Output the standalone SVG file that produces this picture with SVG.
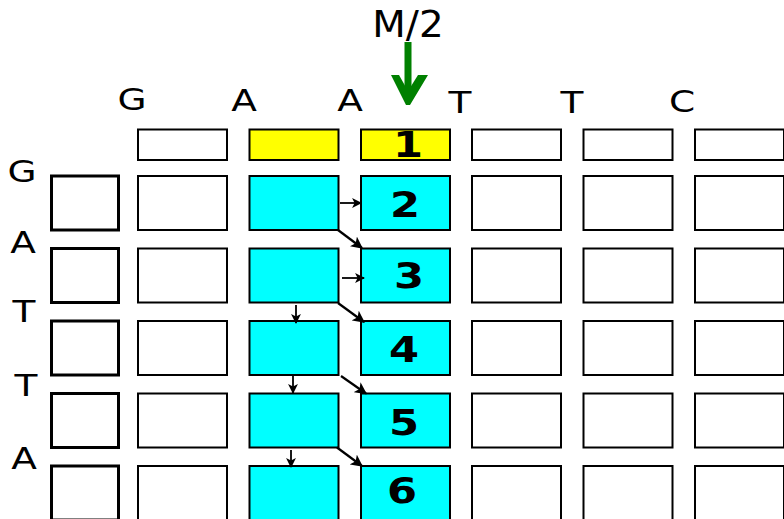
<svg xmlns="http://www.w3.org/2000/svg" width="784" height="519" viewBox="0 0 784 519">
<style>
.b{fill:#fff;stroke:#000;stroke-width:2}
.lb{fill:#fff;stroke:#000;stroke-width:3}
.y{fill:#ffff00;stroke:#000;stroke-width:2}
.c{fill:#00ffff;stroke:#000;stroke-width:2}
.l{font-family:"DejaVu Sans",sans-serif;font-size:30px;fill:#000;text-anchor:middle}
.n{font-family:"DejaVu Sans",sans-serif;font-weight:bold;font-size:36px;fill:#000;text-anchor:middle}
.a{stroke:#000;stroke-width:1.8;fill:none;marker-end:url(#ah)}
.d{stroke:#000;stroke-width:2.2;fill:none;marker-end:url(#ah)}
</style>
<defs>
<marker id="ah" viewBox="0 0 10 10" refX="9" refY="5" markerWidth="5.5" markerHeight="5.5" orient="auto" markerUnits="strokeWidth">
<path d="M0,0 L10,5 L0,10 L2.5,5 z" fill="#000"/>
</marker>
</defs>
<rect width="784" height="519" fill="#fff"/>
<g id="title">
<text x="408" y="37" font-family="DejaVu Sans,sans-serif" font-size="37" text-anchor="middle" transform="translate(408,0) scale(1.05,1) translate(-408,0)">M/2</text>
<rect x="404.5" y="42" width="7" height="52" fill="#008000"/>
<polygon points="391,75 399,75 408,91 418,75 428,75 410,105 406,105" fill="#008000"/>
</g>
<g id="col-labels">
<text class="l" transform="translate(132,110) scale(1.25,1)">G</text>
<text class="l" transform="translate(244,111) scale(1.25,1)">A</text>
<text class="l" transform="translate(350,111) scale(1.25,1)">A</text>
<text class="l" transform="translate(460,113) scale(1.25,1)">T</text>
<text class="l" transform="translate(572,113) scale(1.25,1)">T</text>
<text class="l" transform="translate(682,112) scale(1.25,1)">C</text>
</g>
<g id="row-labels">
<text class="l" transform="translate(22,182) scale(1.25,1)">G</text>
<text class="l" transform="translate(23,253) scale(1.25,1)">A</text>
<text class="l" transform="translate(24,322) scale(1.25,1)">T</text>
<text class="l" transform="translate(26,396) scale(1.25,1)">T</text>
<text class="l" transform="translate(24,469) scale(1.25,1)">A</text>
</g>
<g id="top-row">
<rect class="b" x="138" y="129.5" width="89" height="30.5"/>
<rect class="y" x="249.5" y="129.5" width="89" height="30.5"/>
<g id="n1"><rect class="y" x="361" y="129.5" width="89" height="30.5"/><text class="n" transform="translate(408,157) scale(1.2,1)">1</text></g>
<rect class="b" x="472" y="129.5" width="89" height="30.5"/>
<rect class="b" x="583.5" y="129.5" width="89" height="30.5"/>
<rect class="b" x="695" y="129.5" width="89" height="30.5"/>
</g>
<g id="left-col">
<rect class="lb" x="51.5" y="176" width="67" height="54"/>
<rect class="lb" x="51.5" y="248.5" width="67" height="54"/>
<rect class="lb" x="51.5" y="321" width="67" height="54"/>
<rect class="lb" x="51.5" y="393.5" width="67" height="54"/>
<rect class="lb" x="51.5" y="466" width="67" height="54"/>
</g>
<g id="col0">
<rect class="b" x="138" y="176" width="89" height="54"/>
<rect class="b" x="138" y="248.5" width="89" height="54"/>
<rect class="b" x="138" y="321" width="89" height="54"/>
<rect class="b" x="138" y="393.5" width="89" height="54"/>
<rect class="b" x="138" y="466" width="89" height="54"/>
</g>
<g id="col1">
<rect class="c" x="249.5" y="176" width="89" height="54"/>
<rect class="c" x="249.5" y="248.5" width="89" height="54"/>
<rect class="c" x="249.5" y="321" width="89" height="54"/>
<rect class="c" x="249.5" y="393.5" width="89" height="54"/>
<rect class="c" x="249.5" y="466" width="89" height="54"/>
</g>
<g id="col2">
<g id="n2"><rect class="c" x="361" y="176" width="89" height="54"/><text class="n" transform="translate(405,217) scale(1.2,1)">2</text></g>
<g id="n3"><rect class="c" x="361" y="248.5" width="89" height="54"/><text class="n" transform="translate(409,288) scale(1.2,1)">3</text></g>
<g id="n4"><rect class="c" x="361" y="321" width="89" height="54"/><text class="n" transform="translate(404,362) scale(1.2,1)">4</text></g>
<g id="n5"><rect class="c" x="361" y="393.5" width="89" height="54"/><text class="n" transform="translate(404,435) scale(1.2,1)">5</text></g>
<g id="n6"><rect class="c" x="361" y="466" width="89" height="54"/><text class="n" transform="translate(402,503) scale(1.2,1)">6</text></g>
</g>
<g id="col3">
<rect class="b" x="472" y="176" width="89" height="54"/>
<rect class="b" x="472" y="248.5" width="89" height="54"/>
<rect class="b" x="472" y="321" width="89" height="54"/>
<rect class="b" x="472" y="393.5" width="89" height="54"/>
<rect class="b" x="472" y="466" width="89" height="54"/>
</g>
<g id="col4">
<rect class="b" x="583.5" y="176" width="89" height="54"/>
<rect class="b" x="583.5" y="248.5" width="89" height="54"/>
<rect class="b" x="583.5" y="321" width="89" height="54"/>
<rect class="b" x="583.5" y="393.5" width="89" height="54"/>
<rect class="b" x="583.5" y="466" width="89" height="54"/>
</g>
<g id="col5">
<rect class="b" x="695" y="176" width="89" height="54"/>
<rect class="b" x="695" y="248.5" width="89" height="54"/>
<rect class="b" x="695" y="321" width="89" height="54"/>
<rect class="b" x="695" y="393.5" width="89" height="54"/>
<rect class="b" x="695" y="466" width="89" height="54"/>
</g>
<g id="connectors">
<line class="a" x1="340" y1="203" x2="361" y2="203"/>
<line class="d" x1="338" y1="230" x2="362" y2="248"/>
<line class="a" x1="342" y1="278" x2="364" y2="278"/>
<line class="d" x1="338" y1="303" x2="364" y2="322"/>
<line class="a" x1="296" y1="305" x2="296" y2="323"/>
<line class="a" x1="293" y1="376" x2="293" y2="393"/>
<line class="d" x1="341" y1="376" x2="366" y2="393.5"/>
<line class="a" x1="291" y1="450" x2="291" y2="467"/>
<line class="d" x1="337" y1="447.5" x2="362" y2="466"/>
</g>
</svg>
